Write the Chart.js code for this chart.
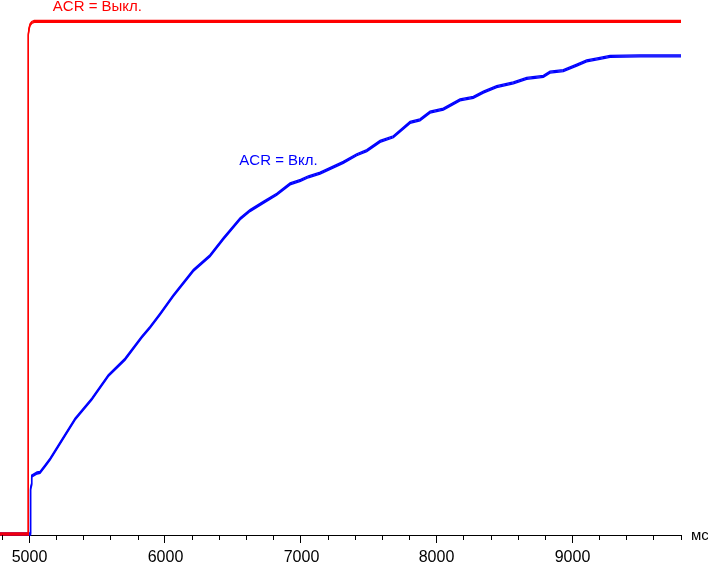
<!DOCTYPE html>
<html>
<head>
<meta charset="utf-8">
<script src="https://cdn.jsdelivr.net/npm/chart.js@4/dist/chart.umd.min.js"></script>
<style>
html,body{margin:0;padding:0;background:#fff;}
canvas{display:block;}
</style>
</head>
<body>
<canvas id="c" width="708" height="563"></canvas>
<script>
// Time, ms
const redX  = [4786, 4993, 4993.5, 4996, 5000, 5008, 5020, 5038, 9803];
const redY  = [0, 0, 60, 97.5, 98.6, 99.4, 99.8, 100, 100];

const blueX = [4786, 5008, 5009, 5013, 5018, 5019, 5059, 5081, 5118, 5155, 5216, 5339, 5462, 5584, 5707, 5830, 5891, 5965, 6063, 6210, 6333, 6431, 6555, 6628, 6726, 6825, 6923, 7000, 7058, 7144, 7315, 7414, 7488, 7586, 7684, 7807, 7880, 7954, 8052, 8175, 8273, 8347, 8445, 8568, 8666, 8789, 8838, 8936, 9035, 9108, 9206, 9280, 9501, 9803];
const blueY = [0, 0, 8.8, 8.8, 9.6, 11.3, 11.9, 12.0, 13.3, 14.6, 17.2, 22.4, 26.3, 30.9, 34.1, 38.4, 40.3, 42.9, 46.5, 51.4, 54.3, 57.6, 61.5, 63.1, 64.7, 66.3, 68.3, 69.0, 69.7, 70.4, 72.5, 74.0, 74.8, 76.6, 77.5, 80.3, 80.8, 82.3, 82.9, 84.7, 85.2, 86.2, 87.3, 88.0, 88.9, 89.3, 90.1, 90.4, 91.5, 92.3, 92.8, 93.2, 93.3, 93.3];

const tickValues = [4800, 5000, 5200, 5400, 5600, 5800, 6000, 6200, 6400, 6600, 6800, 7000, 7200, 7400, 7600, 7800, 8000, 8200, 8400, 8600, 8800, 9000, 9200, 9400, 9600, 9800];
const majorStep = 1000;
const seriesNames = ['ACR = Выкл.', 'ACR = Вкл.'];
const unitLabel = 'мс';

const FONT = "'Liberation Sans', Arial, sans-serif";

// Pen that is thick vertically, thin horizontally (as in the original plot)
const pen = {
  id: 'pen',
  afterDatasetDraw(chart, args) {
    const ctx = chart.ctx;
    const ds = args.meta.dataset;
    [-1, 1].forEach(dy => {
      ctx.save();
      ctx.translate(0, dy);
      ds.draw(ctx, chart.chartArea);
      ctx.restore();
    });
  }
};

const extras = {
  id: 'extras',
  afterDraw(chart) {
    const ctx = chart.ctx;
    const xs = chart.scales.x, ys = chart.scales.y;
    const yAxis = chart.chartArea.bottom;
    ctx.save();
    // minor ticks + tick labels
    ctx.strokeStyle = '#000';
    ctx.lineWidth = 1;
    ctx.fillStyle = '#000';
    ctx.font = '16px ' + FONT;
    ctx.textAlign = 'center';
    ctx.textBaseline = 'alphabetic';
    tickValues.forEach(v => {
      const px = Math.round(xs.getPixelForValue(v)) + 0.5;
      if (v % majorStep !== 0) {
        ctx.beginPath();
        ctx.moveTo(px, yAxis);
        ctx.lineTo(px, yAxis + 5);
        ctx.stroke();
      } else {
        ctx.fillText(String(v), px, 562);
      }
    });
    // unit label
    ctx.font = '15px ' + FONT;
    ctx.textBaseline = 'middle';
    ctx.textAlign = 'left';
    ctx.fillText(unitLabel, chart.chartArea.right + 10, yAxis + 1);
    // series labels
    ctx.textBaseline = 'alphabetic';
    ctx.fillStyle = '#ff0000';
    ctx.fillText(seriesNames[0], xs.getPixelForValue(5175), ys.getPixelForValue(102.1));
    ctx.fillStyle = '#0000ff';
    ctx.fillText(seriesNames[1], xs.getPixelForValue(6549), ys.getPixelForValue(72.0));
    ctx.restore();
  }
};

new Chart(document.getElementById('c'), {
  type: 'line',
  data: {
    datasets: [
      {
        label: seriesNames[0],
        data: redX.map((x, i) => ({x, y: redY[i]})),
        borderColor: '#ff0000',
        borderWidth: 1.3,
        pointRadius: 0,
        tension: 0,
        fill: false
      },
      {
        label: seriesNames[1],
        data: blueX.map((x, i) => ({x, y: blueY[i]})),
        borderColor: '#0000ff',
        borderWidth: 1.3,
        pointRadius: 0,
        tension: 0,
        fill: false
      }
    ]
  },
  options: {
    responsive: false,
    animation: false,
    devicePixelRatio: 1,
    layout: { padding: { left: 0, right: 27, top: 0, bottom: 20 } },
    plugins: { legend: { display: false }, tooltip: { enabled: false } },
    scales: {
      x: {
        type: 'linear',
        min: 4786,
        max: 9803,
        afterBuildTicks: (axis) => { axis.ticks = tickValues.map(v => ({value: v})); },
        grid: {
          drawOnChartArea: false,
          tickLength: 8,
          tickColor: (c) => (c.tick && c.tick.value % majorStep === 0) ? '#000' : 'rgba(0,0,0,0)',
          color: '#000'
        },
        border: { display: true, color: '#000', width: 1 },
        ticks: { display: false }
      },
      y: {
        display: false,
        min: -0.2,
        max: 104.19
      }
    }
  },
  plugins: [pen, extras]
});
</script>
</body>
</html>
